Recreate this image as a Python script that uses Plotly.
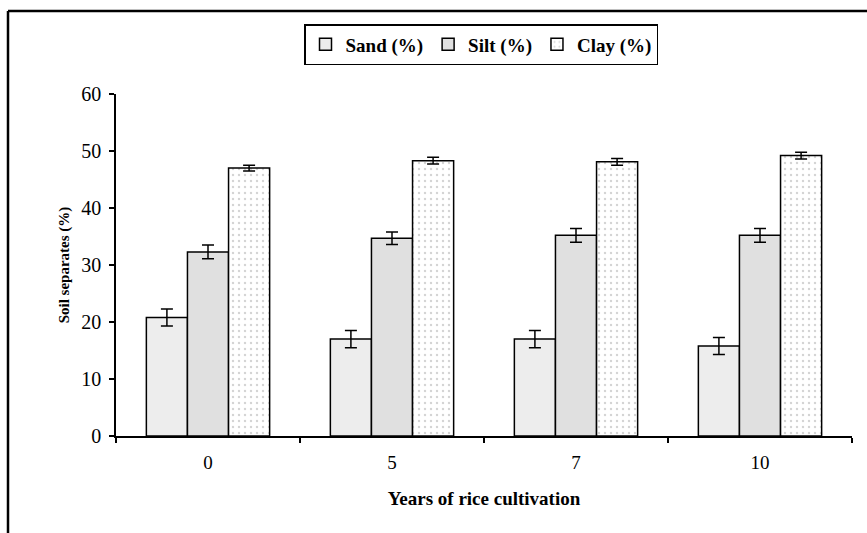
import plotly.graph_objects as go

years = ["0", "5", "7", "10"]
sand = [20.8, 17.0, 17.0, 15.8]
sand_err = [1.5, 1.5, 1.5, 1.5]
silt = [32.3, 34.7, 35.2, 35.2]
silt_err = [1.2, 1.1, 1.2, 1.2]
clay = [47.0, 48.3, 48.1, 49.2]
clay_err = [0.5, 0.6, 0.6, 0.6]

FONT = "Liberation Serif, Times New Roman, serif"

fig = go.Figure()
err_style = dict(type="data", color="black", thickness=1.5, width=6)
fig.add_trace(go.Bar(
    name="Sand (%)", x=years, y=sand,
    error_y=dict(array=sand_err, **err_style),
    marker=dict(color="white", line=dict(color="black", width=1.5),
                pattern=dict(shape=".", fgcolor="#c4c4c4", bgcolor="#f6f6f6", size=2, solidity=0.4)),
))
fig.add_trace(go.Bar(
    name="Silt (%)", x=years, y=silt,
    error_y=dict(array=silt_err, **err_style),
    marker=dict(color="#e0e0e0", line=dict(color="black", width=1.5)),
))
fig.add_trace(go.Bar(
    name="Clay (%)", x=years, y=clay,
    error_y=dict(array=clay_err, **err_style),
    marker=dict(color="white", line=dict(color="black", width=1.5),
                pattern=dict(shape=".", fgcolor="#a8a8a8", bgcolor="white", size=6, solidity=0.12)),
))

L, R, T, B = 116, 15, 94, 97
W, H = 867, 533
pw, ph = W - L - R, H - T - B

def px_x(p):
    return (p - L) / pw

def px_y(p):
    return (H - B - p) / ph

fig.update_layout(
    width=W, height=H,
    margin=dict(l=L, r=R, t=T, b=B),
    paper_bgcolor="white", plot_bgcolor="white",
    barmode="group", bargap=0.33, bargroupgap=0,
    font=dict(family=FONT, size=18, color="black"),
    showlegend=True,
    legend=dict(
        orientation="h", x=px_x(481), y=px_y(24), xanchor="center", yanchor="top",
        bordercolor="black", borderwidth=1.5, bgcolor="white",
        font=dict(family=FONT, size=19, color="black", weight="bold"),
        itemwidth=30, tracegroupgap=0,
    ),
    xaxis=dict(
        type="category", showline=True, linecolor="black", linewidth=1.5,
        ticks="outside", tickson="boundaries", ticklen=5, tickcolor="black", tickwidth=1.5,
        showgrid=False, zeroline=False,
        tickfont=dict(family=FONT, size=19),
        ticklabelstandoff=8,
        title=dict(text="Years of rice cultivation", standoff=20,
                   font=dict(family=FONT, size=19, weight="bold")),
    ),
    yaxis=dict(
        range=[0, 60], dtick=10, showline=True, linecolor="black", linewidth=1.5,
        ticks="outside", ticklen=5, tickcolor="black", tickwidth=1.5,
        showgrid=False, zeroline=False,
        tickfont=dict(family=FONT, size=20),
        ticklabelstandoff=4,
        title=dict(text="Soil separates (%)", standoff=8,
                   font=dict(family=FONT, size=15, weight="bold")),
    ),
    shapes=[
        dict(type="line", xref="paper", yref="paper", x0=px_x(8), x1=px_x(8), y0=px_y(11), y1=px_y(560),
             line=dict(color="black", width=2.5)),
        dict(type="line", xref="paper", yref="paper", x0=px_x(8), x1=px_x(900), y0=px_y(11), y1=px_y(11),
             line=dict(color="black", width=2.5)),
    ],
)

fig.write_html("out.html")
